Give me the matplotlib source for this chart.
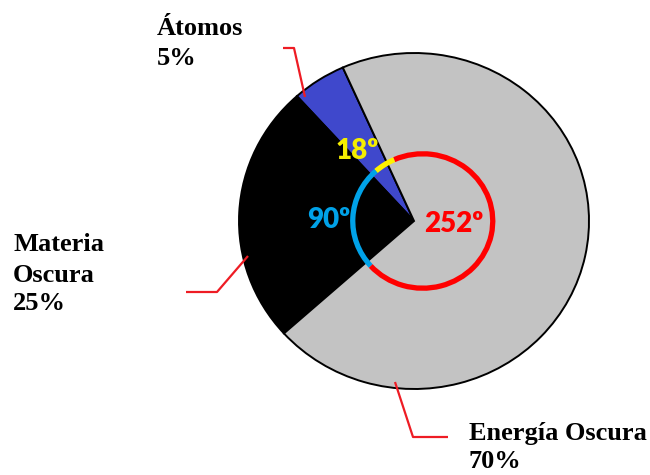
import matplotlib
matplotlib.use("Agg")
import matplotlib.pyplot as plt
from matplotlib.patches import Arc

# ---- data ----
categories = ["Átomos", "Materia Oscura", "Energía Oscura"]
percentages = [5, 25, 70]
label_lines = [["Átomos", "5%"], ["Materia", "Oscura", "25%"], ["Energía Oscura", "70%"]]
degrees = [round(p * 3.6) for p in percentages]  # 18, 90, 252

wedge_colors = ["#3F48CC", "#000000", "#C3C3C3"]
arc_colors = ["#FFF200", "#00A2E8", "#FF0000"]

W, H = 650, 475
fig = plt.figure(figsize=(W / 100, H / 100), dpi=100)

# pie axes (slightly elliptical like the reference)
left, right, top, bottom = 239, 589, 53, 389
ax = fig.add_axes([left / W, 1 - bottom / H, (right - left) / W, (bottom - top) / H])
wedges, _ = ax.pie(percentages, colors=wedge_colors, startangle=114, counterclock=True,
                   radius=1.0, wedgeprops=dict(edgecolor="black", linewidth=1.4))
ax.set_aspect("auto")
ax.set_xlim(-1.0, 1.0)
ax.set_ylim(-1.0, 1.0)
ax.axis("off")

# angle arcs
arc_center = (0.05, 0.0)
for w, c in zip(wedges, arc_colors):
    ax.add_patch(Arc(arc_center, 0.8, 0.8, theta1=w.theta1, theta2=w.theta2,
                     color=c, lw=3.8, zorder=5))

# overlay in pixel coordinates for labels and leader lines
ov = fig.add_axes([0, 0, 1, 1], facecolor="none")
ov.set_xlim(0, W)
ov.set_ylim(H, 0)
ov.axis("off")

angle_font = dict(family=["Lato", "DejaVu Sans"], weight="heavy", fontsize=20)
angle_pos = [(336, 159), (307, 228), (424, 232)]
for d, c, (x, y) in zip(degrees, arc_colors, angle_pos):
    col = "#F5EE00" if c == "#FFF200" else c
    ov.text(x, y, f"{d}º", color=col, ha="left", va="baseline", **angle_font)

label_font = dict(family=["Liberation Serif", "DejaVu Serif"], weight="bold", fontsize=19)
label_pos = [(157, [35, 65]), (13, [251, 282, 310]), (469, [440, 468])]
for lines, (x, ys) in zip(label_lines, label_pos):
    for t, y in zip(lines, ys):
        ov.text(x, y, t, color="black", ha="left", va="baseline", **label_font)

leaders = [
    ([283, 294, 305], [48, 48, 97]),
    ([186, 217, 248], [292, 292, 256]),
    ([395, 413, 448], [382, 437, 437]),
]
for xs, ys in leaders:
    ov.plot(xs, ys, color="#EE1C24", lw=1.6, solid_capstyle="butt")

fig.savefig("out.png", dpi=100)
